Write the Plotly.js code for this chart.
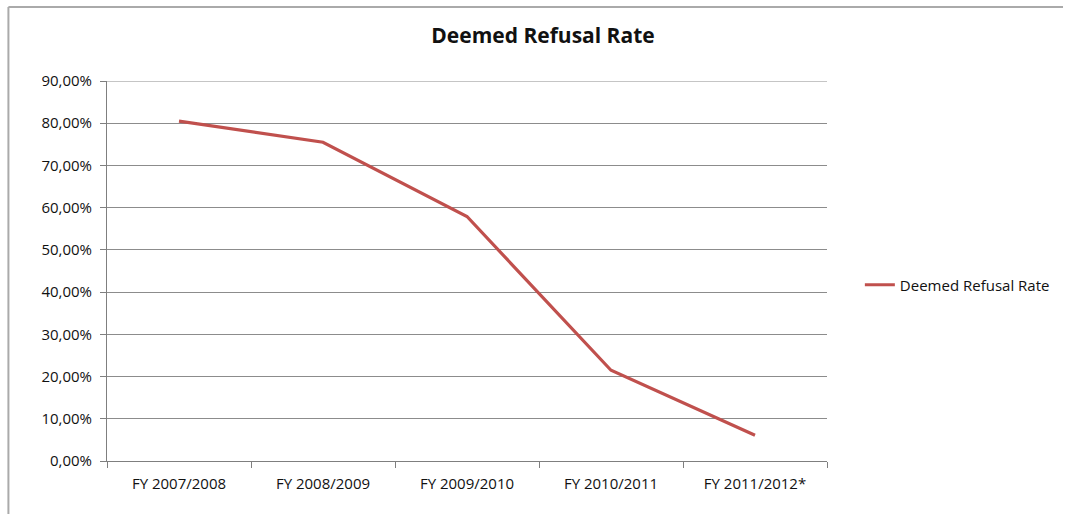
<!DOCTYPE html>
<html>
<head>
<meta charset="utf-8">
<script src="https://cdn.plot.ly/plotly-3.0.1.min.js"></script>
<style>html,body{margin:0;padding:0;background:#fff;}#chart{width:1067px;height:514px;}</style>
</head>
<body>
<div id="chart"></div>
<script>
const categories = ["FY 2007/2008", "FY 2008/2009", "FY 2009/2010", "FY 2010/2011", "FY 2011/2012*"];
const refusalRate = [0.805, 0.755, 0.579, 0.215, 0.061];
const yTicks = [0, 0.1, 0.2, 0.3, 0.4, 0.5, 0.6, 0.7, 0.8, 0.9];
const seriesName = "Deemed Refusal Rate";

const W = 1067, H = 514;
const m = {l: 107, r: 237, t: 81, b: 53};
const pw = W - m.l - m.r, ph = H - m.t - m.b;
const px = x => (x - m.l) / pw;
const py = y => (H - m.b - y) / ph;

const font = "Open Sans, Liberation Sans, sans-serif";
const yMax = yTicks[yTicks.length - 1];

const trace = {
  x: categories,
  y: refusalRate,
  type: "scatter",
  mode: "lines",
  name: seriesName,
  line: {color: "#C0504D", width: 3.2},
  showlegend: true
};

const layout = {
  width: W, height: H,
  margin: m,
  paper_bgcolor: "#fff",
  plot_bgcolor: "#fff",
  separators: ", ",
  title: {
    text: "<b>Deemed Refusal Rate</b>",
    font: {family: font, size: 21, color: "#111"},
    x: 543 / W, xref: "container", xanchor: "center",
    y: 1 - 36 / H, yref: "container", yanchor: "middle"
  },
  xaxis: {
    type: "category",
    range: [-0.5, 4.5],
    showline: true, linecolor: "#7f7f7f", linewidth: 1,
    showgrid: false,
    ticks: "outside", tickson: "boundaries", ticklen: 6, tickcolor: "#7f7f7f",
    ticklabelstandoff: 9,
    tickfont: {family: font, size: 15, color: "#111"},
    zeroline: false, fixedrange: true
  },
  yaxis: {
    range: [0, yMax],
    tickvals: yTicks,
    tickformat: ".2%",
    showline: true, linecolor: "#7f7f7f", linewidth: 1,
    showgrid: true, gridcolor: "#8c8c8c", gridwidth: 1,
    ticks: "outside", ticklen: 6, tickcolor: "#7f7f7f",
    ticklabelstandoff: 5,
    tickfont: {family: font, size: 15, color: "#111"},
    zeroline: false, fixedrange: true
  },
  legend: {
    x: px(863), xanchor: "left",
    y: py(285), yanchor: "middle",
    font: {family: font, size: 15, color: "#111"},
    bgcolor: "rgba(0,0,0,0)",
    itemwidth: 30
  },
  shapes: [
    {type: "line", xref: "paper", yref: "y", x0: 0, x1: 1, y0: yMax, y1: yMax, line: {color: "#8c8c8c", width: 1}, layer: "below"},
    {type: "line", xref: "paper", yref: "paper", x0: px(8), x1: px(1067), y0: py(7), y1: py(7), line: {color: "#aaaaaa", width: 2}},
    {type: "line", xref: "paper", yref: "paper", x0: px(8), x1: px(8), y0: py(7), y1: py(514), line: {color: "#aaaaaa", width: 2}}
  ]
};

Plotly.newPlot("chart", [trace], layout, {displayModeBar: false, staticPlot: true});
</script>
</body>
</html>
